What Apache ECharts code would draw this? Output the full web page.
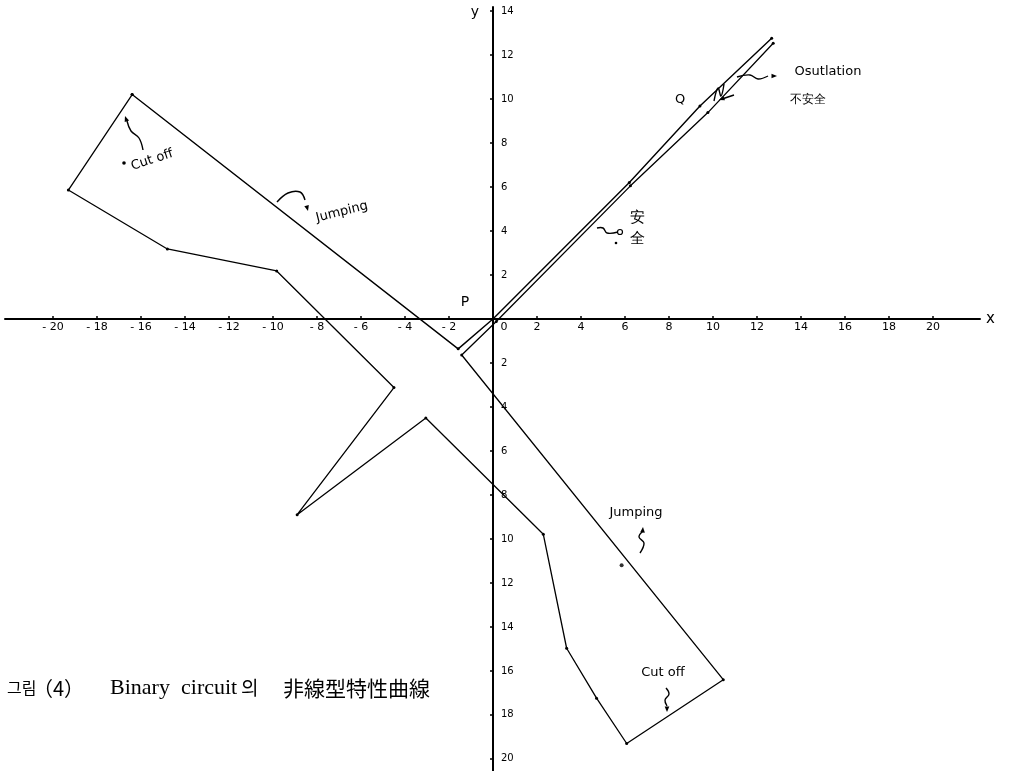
<!DOCTYPE html>
<html>
<head>
    <meta charset="utf-8">
    <script src="https://cdn.jsdelivr.net/npm/echarts@6/dist/echarts.min.js"></script>
    <style>
        html, body { margin: 0; padding: 0; background: #fff; }
        #main { width: 1011px; height: 771px; }
    </style>
</head>
<body>
    <div id="main"></div>
    <script type="text/javascript">

        // upper branch: cut-off corner -> jumping line -> P -> origin -> Q -> oscillation tip
        var upperBranch = [[-16.4, 10.2], [-1.58, -1.36], [0, 0], [6.2, 6.2], [9.41, 9.68], [12.67, 12.76]];
        // lower branch: oscillation tip -> origin -> P -> jumping -> cut off -> round the loop back
        var lowerBranch = [[12.74, 12.53], [9.77, 9.38], [6.25, 6.05], [0.15, -0.12], [-1.42, -1.64],
            [10.47, -16.4], [6.08, -19.3], [4.71, -17.24], [3.35, -14.97], [2.29, -9.79],
            [-3.05, -4.5], [-8.9, -8.9], [-4.5, -3.12], [-9.83, 2.18], [-14.8, 3.18],
            [-19.3, 5.86], [-16.4, 10.2]];
        var strayDots = [[5.85, -11.2]];

        var xTicks = [-20, -18, -16, -14, -12, -10, -8, -6, -4, -2, 0, 2, 4, 6, 8, 10, 12, 14, 16, 18, 20];
        var yTicks = [-20, -18, -16, -14, -12, -10, -8, -6, -4, -2, 2, 4, 6, 8, 10, 12, 14];

        var hand = "'DejaVu Sans', sans-serif";
        var serif = "'Liberation Serif', 'Noto Sans CJK KR', serif";
        var cjk = "'Noto Sans CJK KR', serif";

        function arrowHead(x, y, angle) {
            // small filled triangle pointing along angle (deg)
            var a = angle * Math.PI / 180, s = 6;
            var p1 = [x, y];
            var p2 = [x - s * Math.cos(a - 0.4), y - s * Math.sin(a - 0.4)];
            var p3 = [x - s * Math.cos(a + 0.4), y - s * Math.sin(a + 0.4)];
            return { type: 'polygon', shape: { points: [p1, p2, p3] }, style: { fill: '#000' } };
        }
        function squiggle(pts) {
            return { type: 'polyline', shape: { points: pts, smooth: 0.4 }, style: { stroke: '#000', lineWidth: 1.4, fill: null } };
        }
        function note(txt, x, y, size, rot) {
            return {
                type: 'text', x: x, y: y, rotation: (rot || 0) * Math.PI / 180,
                style: { text: txt, font: (size || 13) + 'px ' + hand, fill: '#000', align: 'center', verticalAlign: 'middle' }
            };
        }
        function caption(txt, x, size, family) {
            return {
                type: 'text', x: x, y: 688,
                style: { text: txt, font: size + 'px ' + (family || serif), fill: '#000', verticalAlign: 'middle' }
            };
        }

        var myChart = echarts.init(document.getElementById('main'));
        myChart.setOption({
            animation: false,
            backgroundColor: '#fff',
            grid: { left: 5, right: 31, top: 7, bottom: 0, containLabel: false },
            xAxis: {
                type: 'value',
                position: 'bottom',
                offset: -452,
                min: -22.18, max: 22.14,
                name: 'x',
                nameLocation: 'end',
                nameGap: 6,
                nameTextStyle: { fontSize: 15, fontFamily: hand, color: '#000' },
                axisLine: { onZero: false, lineStyle: { color: '#000', width: 2 } },
                axisTick: { show: true, customValues: xTicks, length: 3, inside: true, lineStyle: { color: '#000', width: 1.5 } },
                axisLabel: {
                    customValues: xTicks,
                    margin: 3,
                    fontSize: 11,
                    fontFamily: hand,
                    color: '#000',
                    hideOverlap: false,
                    formatter: function (v) {
                        if (v === 0) return '{z|0}';
                        return v < 0 ? '- ' + Math.abs(v) : String(v);
                    },
                    rich: { z: { fontSize: 11, fontFamily: hand, color: '#000', padding: [0, 0, 0, 22] } }
                },
                splitLine: { show: false }
            },
            yAxis: {
                type: 'value',
                position: 'left',
                offset: -488,
                min: -20.55, max: 14.18,
                name: 'y',
                nameLocation: 'end',
                nameGap: -12,
                nameTextStyle: { fontSize: 14, fontFamily: hand, color: '#000', align: 'right', padding: [0, 14, 0, 0] },
                axisLine: { onZero: false, lineStyle: { color: '#000', width: 2 } },
                axisTick: { show: true, customValues: yTicks, length: 3, lineStyle: { color: '#000', width: 1.5 } },
                axisLabel: {
                    customValues: yTicks,
                    inside: true,
                    margin: 8,
                    fontSize: 10,
                    fontFamily: hand,
                    color: '#000',
                    hideOverlap: false,
                    formatter: function (v) { return String(Math.abs(v)); }
                },
                splitLine: { show: false }
            },
            series: [
                {
                    name: 'upper',
                    type: 'line',
                    data: upperBranch,
                    symbol: 'circle',
                    symbolSize: 3,
                    showSymbol: true,
                    itemStyle: { color: '#000' },
                    lineStyle: { color: '#000', width: 1.4 }
                },
                {
                    name: 'lower',
                    type: 'line',
                    data: lowerBranch,
                    symbol: 'circle',
                    symbolSize: 3,
                    showSymbol: true,
                    itemStyle: { color: '#000' },
                    lineStyle: { color: '#000', width: 1.3 }
                },
                {
                    name: 'dots',
                    type: 'scatter',
                    data: strayDots,
                    symbolSize: 4,
                    itemStyle: { color: '#000' }
                }
            ],
            graphic: [
                // upper-left cut off
                note('Cut off', 152, 160, 13, 18),
                { type: 'circle', shape: { cx: 124, cy: 163, r: 1.8 }, style: { fill: '#000' } },
                squiggle([[143, 150], [139, 138], [131, 131], [127, 121]]),
                arrowHead(125, 116, -110),
                // upper jumping
                note('Jumping', 342, 212, 13, 14),
                squiggle([[277, 202], [288, 193], [300, 192], [305, 200]]),
                arrowHead(308, 211, 75),
                // P and Q
                note('P', 465, 302, 14),
                note('Q', 680, 100, 13),
                // oscillation
                squiggle([[737, 77], [750, 75], [758, 79], [768, 76]]),
                arrowHead(777, 76, 0),
                note('Osutlation', 828, 72, 13),
                note('不安全', 808, 100, 12),
                squiggle([[714, 101], [718, 88], [721, 96], [724, 84]]),
                squiggle([[734, 95], [722, 99]]),
                arrowHead(719, 100, 160),
                // safe
                note('安', 637, 218, 15),
                note('全', 637, 239, 15),
                squiggle([[597, 228], [603, 228], [607, 233], [618, 232]]),
                { type: 'circle', shape: { cx: 620, cy: 232, r: 2.5 }, style: { fill: '#fff', stroke: '#000', lineWidth: 1.2 } },
                { type: 'circle', shape: { cx: 616, cy: 243, r: 1.3 }, style: { fill: '#000' } },
                // lower jumping
                note('Jumping', 636, 513, 13),
                squiggle([[640, 553], [644, 543], [639, 537], [643, 531]]),
                arrowHead(643, 527, -85),
                // lower cut off
                note('Cut off', 663, 673, 13),
                squiggle([[666, 688], [669, 694], [665, 700], [667, 706]]),
                arrowHead(667, 712, 90),
                // caption
                caption('그림', 7, 16, cjk),
                caption('（4）', 33, 20, cjk),
                caption('Binary', 110, 22),
                caption('circuit', 181, 22),
                caption('의', 241, 19, cjk),
                caption('非線型特性曲線', 283, 21, cjk)
            ]
        });
    </script>
</body>
</html>
